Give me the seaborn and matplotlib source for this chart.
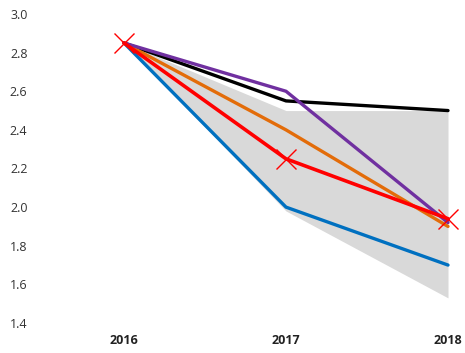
import matplotlib
matplotlib.use("Agg")
import matplotlib.pyplot as plt
import seaborn as sns
import pandas as pd
import numpy as np

years = ["2016", "2017", "2018"]
black = [2.85, 2.55, 2.50]
purple = [2.85, 2.60, 1.92]
orange = [2.85, 2.40, 1.90]
blue = [2.85, 2.00, 1.70]
red = [2.85, 2.25, 1.94]
band_low = [2.85, 1.98, 1.53]
band_high = [2.85, 2.50, 2.50]
yticks = [1.4, 1.6, 1.8, 2.0, 2.2, 2.4, 2.6, 2.8, 3.0]

sns.set_theme(style="white")
plt.rcParams['font.family'] = ['Open Sans', 'DejaVu Sans']

fig = plt.figure(figsize=(4.65, 3.53), dpi=100)
ax = fig.add_axes([40/465, 30/353, 420/465, 309/353])

x = np.arange(len(years))
ax.fill_between(x, band_low, band_high, color="#D9D9D9", linewidth=0, zorder=1)

series = [("black", black, "#000000"), ("blue", blue, "#0070C0"),
          ("orange", orange, "#E36C09"), ("purple", purple, "#7030A0")]
for name, vals, col in series:
    df = pd.DataFrame({"x": x, "y": vals})
    sns.lineplot(data=df, x="x", y="y", ax=ax, color=col, linewidth=2.4, zorder=3)

dfr = pd.DataFrame({"x": x, "y": red})
sns.lineplot(data=dfr, x="x", y="y", ax=ax, color="#FF0000", linewidth=2.6, zorder=4,
             marker="x", markersize=14, markeredgewidth=1.0, markeredgecolor="#FF0000")

xmin = -(124 - 40) / 162
ax.set_xlim(xmin, xmin + 420 / 162)
ax.set_ylim(1.4, 3.0)
ax.set_xticks(x)
ax.set_xticklabels(years, fontsize=9, fontweight="bold", color="#222222")
ax.set_yticks(yticks)
ax.set_yticklabels([f"{v:.1f}" for v in yticks], fontsize=9, color="#333333")
ax.tick_params(axis="both", length=0)
ax.tick_params(axis="y", pad=9)
ax.tick_params(axis="x", pad=8)
ax.set_xlabel("")
ax.set_ylabel("")
for s in ax.spines.values():
    s.set_visible(False)
ax.grid(False)

fig.savefig("out.png", dpi=100)
